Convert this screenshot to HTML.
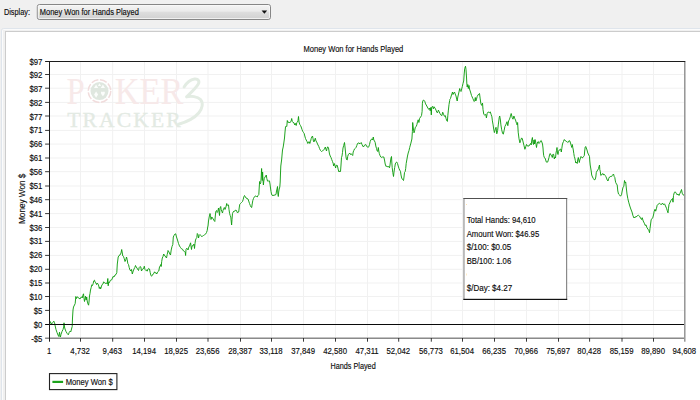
<!DOCTYPE html>
<html><head><meta charset="utf-8"><title>Money Won for Hands Played</title>
<style>
html,body{margin:0;padding:0;background:#f0f0f0;overflow:hidden}
body{width:700px;height:400px;font-family:"Liberation Sans",sans-serif}
svg{display:block;position:absolute;left:0;top:0}
text{font-family:"Liberation Sans",sans-serif;fill:#0c0c0c;stroke:#0c0c0c;stroke-width:0.14px}
</style></head><body>
<svg width="700" height="400" viewBox="0 0 700 400">
<defs>
<linearGradient id="cb" x1="0" y1="0" x2="0" y2="1">
<stop offset="0" stop-color="#f4f4f4"/><stop offset="0.45" stop-color="#ebebeb"/><stop offset="0.5" stop-color="#dedede"/><stop offset="1" stop-color="#d0d0d0"/>
</linearGradient>
</defs>
<rect x="0" y="0" width="700" height="400" fill="#f0f0f0"/>

<rect x="1.5" y="28.5" width="720" height="400" rx="2" fill="#f0f0f0" stroke="#dfe5ec" stroke-width="1"/>
<rect x="2.5" y="29.5" width="720" height="400" rx="1" fill="none" stroke="#fbfbfb" stroke-width="1"/>
<rect x="5.5" y="31.5" width="720" height="400" fill="#ffffff" stroke="#cccccc" stroke-width="1"/>
<rect x="37.3" y="4.5" width="233.2" height="15" rx="2.2" fill="url(#cb)" stroke="#868686" stroke-width="1"/>
<rect x="38.3" y="5.5" width="231.2" height="13" rx="1.2" fill="none" stroke="#fafafa" stroke-opacity="0.75" stroke-width="1"/>
<path d="M261.6 10.4 L267.2 10.4 L264.4 13.8 Z" fill="#111"/>
<text x="3.9" y="15.4" font-size="8.6" textLength="26.2" lengthAdjust="spacingAndGlyphs">Display:</text>
<text x="39.8" y="15.4" font-size="8.6" textLength="99" lengthAdjust="spacingAndGlyphs">Money Won for Hands Played</text>
<text x="303.5" y="51.9" font-size="8.6" textLength="99.8" lengthAdjust="spacingAndGlyphs">Money Won for Hands Played</text>
<path d="M80.50 61.50V338.10M112.70 61.50V338.10M144.50 61.50V338.10M176.50 61.50V338.10M208.00 61.50V338.10M240.50 61.50V338.10M271.50 61.50V338.10M303.50 61.50V338.10M335.50 61.50V338.10M367.50 61.50V338.10M398.70 61.50V338.10M431.30 61.50V338.10M462.50 61.50V338.10M494.50 61.50V338.10M526.50 61.50V338.10M558.50 61.50V338.10M589.60 61.50V338.10M622.00 61.50V338.10M653.50 61.50V338.10M49.50 74.50H684.50M49.50 88.20H684.50M49.50 102.40H684.50M49.50 116.00H684.50M49.50 130.40H684.50M49.50 144.10H684.50M49.50 158.00H684.50M49.50 171.70H684.50M49.50 186.00H684.50M49.50 199.70H684.50M49.50 213.60H684.50M49.50 227.50H684.50M49.50 241.40H684.50M49.50 255.40H684.50M49.50 269.30H684.50M49.50 283.00H684.50M49.50 296.50H684.50M49.50 310.40H684.50M49.50 324.50H684.50" stroke="#f1f1f1" stroke-width="1" fill="none"/>
<g>
<text x="66.6" y="104.3" font-size="38.5" textLength="18.2" lengthAdjust="spacingAndGlyphs" style="font-family:'Liberation Serif',serif;fill:#f7e9e9;stroke:none">P</text>
<text x="114.8" y="104.3" font-size="38.5" textLength="68.5" lengthAdjust="spacingAndGlyphs" style="font-family:'Liberation Serif',serif;fill:#f7e9e9;stroke:none">KER</text>
<circle cx="99.5" cy="91.1" r="11.3" fill="none" stroke="#f1dcdc" stroke-width="1.5" stroke-dasharray="7.2 1.7"/>
<circle cx="99.5" cy="91.1" r="9" fill="#dfe7df"/>
<path d="M96.1 84.6 l2.1 3.3 h-4.2z M102.9 84.6 l2.1 3.3 h-4.2z M99.5 83.3 l1.6 2.6 h-3.2z M96.1 91.6 l2 3 l-2 3.2 l-2 -3.2z M100.9 92.2 q1 -1.4 2 0 q1 -1.4 2 0 q0.4 1.4 -2 4 q-2.4 -2.6 -2 -4z" fill="#fbfdfb"/>
<text x="67.2" y="126.9" font-size="21.6" textLength="113.5" lengthAdjust="spacing" style="font-family:'Liberation Serif',serif;fill:#e3eae3;stroke:#e3eae3;stroke-width:0.3px">TRACKER</text>
<path d="M184.1 87 C186.5 83 190.5 79.6 194.5 79 C198.5 78.6 200 81.5 198 84.5 C195.5 88.5 190 93.5 186.6 96.9 C191 95.8 197.5 96.4 200.5 99.5 C203.5 103 202.5 108.5 198.7 113 C194 118.5 186.5 122 178.6 124.2" fill="none" stroke="#e3ece3" stroke-width="3" stroke-linecap="round" stroke-linejoin="round"/>
</g>
<path d="M49.5 325.0 L50.2 321.5 L51.5 324.0 L52.8 322.5 L53.8 321.2 L54.5 322.5 L55.2 326.0 L56.0 329.5 L57.0 332.5 L58.0 335.0 L58.8 336.5 L59.5 332.2 L60.3 337.5 L61.0 334.5 L62.0 331.5 L63.0 329.5 L63.7 327.0 L64.0 322.8 L64.5 327.0 L65.0 329.0 L66.0 331.5 L67.2 333.5 L68.3 334.8 L69.2 332.5 L70.2 331.0 L70.8 331.8 L71.5 329.0 L72.2 326.5 L72.5 318.0 L73.0 310.0 L73.5 307.0 L74.5 305.0 L75.2 303.5 L75.8 296.5 L76.5 298.5 L77.2 296.8 L78.0 297.5 L79.0 298.2 L80.0 299.0 L80.8 297.5 L81.5 296.8 L82.2 298.0 L82.8 295.5 L83.5 293.8 L84.0 298.5 L84.5 301.5 L85.0 299.0 L85.5 296.2 L86.2 300.0 L86.7 297.0 L87.2 301.0 L88.0 304.0 L88.6 305.2 L89.0 302.0 L89.5 296.0 L90.0 293.5 L90.5 290.0 L91.2 287.5 L91.8 284.8 L92.5 285.5 L93.2 283.5 L93.8 280.8 L94.5 280.2 L95.0 282.0 L95.8 282.8 L96.5 284.5 L97.2 283.0 L98.0 284.0 L98.8 286.0 L99.3 288.5 L100.0 287.0 L100.5 289.0 L101.0 288.0 L101.5 286.0 L102.2 284.5 L103.0 284.0 L103.6 281.8 L104.2 282.5 L105.0 283.0 L105.8 283.5 L106.5 282.8 L107.2 284.0 L107.8 278.5 L108.2 285.8 L108.8 282.0 L109.5 282.5 L110.2 280.5 L111.0 280.0 L111.8 279.8 L113.0 276.5 L114.0 277.0 L115.0 275.0 L116.0 274.5 L116.8 272.5 L117.3 264.0 L118.2 257.0 L119.0 255.5 L120.0 255.0 L121.0 253.0 L121.7 249.5 L122.3 253.0 L122.8 256.0 L123.5 256.5 L124.2 258.5 L125.0 261.5 L125.8 260.0 L126.5 257.0 L127.2 259.5 L127.8 263.5 L128.5 264.5 L129.2 267.5 L130.0 270.0 L130.8 271.0 L131.5 269.5 L132.3 274.0 L133.2 271.0 L134.0 269.0 L134.8 267.5 L135.5 265.5 L136.2 267.0 L137.0 268.0 L137.7 269.5 L138.5 270.5 L139.2 267.5 L140.0 266.5 L140.8 267.0 L141.5 271.0 L142.2 269.5 L143.0 269.0 L143.8 268.0 L144.3 266.2 L145.0 269.5 L145.8 270.5 L146.5 270.0 L147.2 271.2 L148.0 269.0 L148.8 268.5 L149.5 269.0 L150.2 272.5 L150.8 275.0 L151.5 276.2 L152.3 275.5 L153.0 274.0 L153.8 273.5 L154.5 271.8 L155.2 273.0 L156.0 272.8 L156.8 274.0 L157.5 272.0 L158.2 271.5 L158.8 271.0 L159.5 267.0 L160.2 266.0 L160.8 264.5 L161.2 266.5 L161.7 261.5 L162.3 258.0 L163.0 256.5 L163.7 254.0 L164.3 255.0 L165.0 256.0 L165.8 257.0 L166.5 258.0 L167.2 254.5 L167.8 252.0 L168.0 250.5 L169.0 252.0 L169.8 254.0 L170.5 255.0 L171.2 250.0 L172.0 246.5 L172.8 244.5 L173.3 237.0 L174.0 235.5 L175.0 234.0 L175.7 233.8 L176.5 237.0 L177.5 240.0 L178.5 243.5 L179.5 246.0 L180.5 247.5 L181.5 248.8 L182.5 249.2 L183.5 251.0 L184.5 251.5 L185.2 252.0 L185.6 255.5 L186.0 249.5 L186.8 248.2 L187.5 249.0 L188.0 250.0 L188.8 247.0 L189.5 246.0 L190.2 244.0 L190.6 242.8 L191.0 246.5 L191.5 249.5 L192.0 245.8 L192.8 246.0 L193.5 244.5 L194.0 244.0 L194.5 248.5 L195.0 243.5 L195.5 240.0 L196.2 238.5 L196.8 237.5 L197.3 233.5 L198.0 234.5 L198.5 238.0 L199.2 235.5 L200.0 234.5 L200.8 235.5 L201.5 236.5 L202.5 236.2 L203.5 235.5 L204.5 234.8 L205.5 234.2 L206.5 232.5 L207.2 230.5 L207.7 227.0 L208.0 226.0 L208.5 221.0 L209.2 217.0 L210.0 213.5 L210.5 215.5 L211.0 219.5 L211.8 217.0 L212.5 218.0 L213.2 219.0 L214.0 220.5 L214.8 221.5 L215.3 216.0 L215.8 211.5 L216.5 210.5 L217.2 212.5 L217.8 211.5 L218.5 208.0 L219.0 211.5 L219.5 215.5 L220.0 208.0 L220.7 206.5 L221.2 209.5 L221.8 211.5 L222.5 213.0 L223.0 210.5 L223.7 208.5 L224.3 207.5 L225.0 209.5 L225.6 208.0 L226.2 206.0 L226.7 203.5 L227.2 205.5 L227.8 204.8 L228.5 205.0 L229.0 209.5 L229.6 213.5 L230.2 215.5 L230.8 217.0 L231.2 221.0 L231.6 225.0 L232.0 219.5 L232.5 213.5 L233.2 212.0 L234.0 211.0 L234.8 211.2 L235.7 210.0 L236.5 210.5 L237.2 212.5 L238.0 212.5 L238.7 212.0 L239.2 208.0 L239.7 204.5 L240.5 203.5 L241.5 202.5 L242.5 201.5 L243.2 199.5 L243.8 197.0 L244.5 195.5 L245.2 196.5 L246.0 198.0 L247.0 198.5 L248.0 199.0 L248.7 201.0 L249.5 203.5 L250.3 205.5 L251.0 207.0 L251.7 207.5 L252.2 204.0 L252.8 200.5 L253.5 198.5 L254.3 197.0 L255.0 196.2 L255.8 196.0 L256.5 196.5 L257.2 197.0 L258.0 195.5 L258.8 194.5 L259.2 188.0 L259.6 181.5 L260.2 184.0 L260.8 182.5 L261.2 177.0 L261.6 168.5 L262.0 177.0 L262.3 180.5 L262.6 172.0 L263.0 180.0 L263.4 185.0 L263.8 181.0 L264.3 178.5 L265.0 177.0 L265.7 176.0 L266.3 175.0 L266.8 178.5 L267.5 181.0 L268.2 181.5 L268.8 180.5 L269.5 181.0 L270.0 184.0 L270.5 188.0 L271.0 191.5 L271.5 194.0 L272.0 195.2 L273.0 195.5 L274.0 195.2 L275.0 195.0 L276.0 194.5 L276.5 191.0 L277.0 189.0 L277.5 186.5 L277.8 193.0 L278.3 196.5 L278.7 192.0 L279.2 189.0 L279.8 187.0 L280.2 182.0 L280.5 173.0 L280.8 166.0 L281.2 163.0 L281.6 160.0 L282.5 150.0 L283.2 147.0 L283.8 143.0 L284.5 138.0 L285.0 132.0 L285.5 127.0 L286.2 126.0 L286.8 126.5 L287.3 120.5 L288.0 122.5 L288.8 122.0 L289.5 123.0 L290.2 122.0 L291.0 121.5 L291.7 118.5 L292.3 121.5 L293.0 122.5 L294.0 122.8 L294.8 125.0 L295.5 123.5 L296.2 125.5 L296.8 122.5 L297.5 122.0 L298.0 120.5 L298.5 116.5 L299.0 122.0 L299.8 124.5 L300.5 125.5 L301.2 127.0 L302.0 129.5 L302.8 131.5 L303.5 132.5 L304.2 133.5 L304.8 136.0 L305.5 138.5 L306.2 140.0 L307.0 141.5 L307.8 143.5 L308.5 142.0 L309.2 141.5 L309.8 143.5 L310.5 141.5 L311.2 138.5 L311.8 137.0 L312.5 136.0 L313.0 138.5 L313.5 141.5 L314.0 142.0 L314.7 140.0 L315.3 138.2 L316.0 141.0 L316.7 142.0 L317.5 144.0 L318.8 146.5 L319.5 148.5 L320.5 150.5 L321.5 151.5 L322.5 151.0 L323.5 150.0 L324.5 149.0 L325.3 147.0 L326.0 149.5 L326.5 151.0 L327.0 148.5 L327.7 146.8 L328.5 148.0 L329.0 151.0 L329.5 154.0 L330.2 156.0 L331.0 157.5 L331.7 159.5 L332.5 161.5 L333.2 163.5 L333.7 166.0 L334.3 163.5 L335.0 165.5 L335.6 168.0 L336.2 165.5 L337.0 165.0 L337.7 167.0 L338.3 170.0 L339.0 172.0 L339.8 171.0 L340.5 171.5 L341.0 165.0 L341.5 157.5 L342.0 156.0 L342.5 152.5 L343.0 148.0 L343.7 145.5 L344.5 142.5 L345.0 147.0 L345.5 152.0 L346.0 157.0 L346.5 159.5 L347.2 160.0 L347.7 156.5 L348.3 154.5 L349.0 154.0 L349.8 153.0 L350.5 154.5 L351.2 154.0 L352.0 154.5 L352.7 155.5 L353.2 152.0 L353.8 150.5 L354.5 149.0 L355.2 148.5 L356.0 147.5 L356.8 145.5 L357.5 143.5 L358.3 143.2 L359.0 142.8 L359.8 144.0 L360.5 143.2 L361.2 142.5 L362.0 144.5 L362.7 146.0 L363.5 147.0 L364.2 145.5 L365.0 145.0 L365.8 144.5 L366.5 146.0 L367.3 147.0 L368.0 147.5 L368.8 146.8 L369.5 144.5 L370.2 141.5 L371.0 139.5 L371.8 139.0 L372.5 140.0 L373.3 137.0 L373.8 140.0 L374.5 141.0 L375.2 142.5 L375.8 146.0 L376.5 148.5 L377.2 151.0 L377.8 151.5 L378.3 147.5 L378.8 151.0 L379.3 153.5 L380.0 155.5 L380.8 157.0 L381.8 157.5 L382.8 156.8 L383.8 157.0 L384.5 160.0 L385.2 164.0 L386.0 166.5 L386.8 166.0 L387.8 167.0 L388.8 166.5 L389.5 167.8 L390.0 165.0 L390.5 161.0 L391.0 158.0 L391.5 156.5 L391.8 162.0 L392.2 167.5 L392.8 172.5 L393.5 176.5 L394.0 172.0 L394.7 167.5 L395.3 164.0 L396.0 162.5 L396.7 162.0 L397.5 163.5 L398.2 166.0 L399.0 168.5 L399.7 170.0 L400.5 171.5 L401.0 175.0 L401.7 178.0 L402.5 179.5 L403.5 180.5 L404.0 177.0 L404.5 172.5 L405.2 171.5 L405.7 168.5 L406.2 163.5 L406.8 160.0 L407.5 156.0 L408.2 153.0 L409.0 150.5 L409.7 147.5 L410.9 143.1 L411.9 139.0 L412.4 131.4 L412.7 122.5 L413.3 128.0 L414.0 132.8 L414.6 130.8 L415.3 127.3 L416.2 126.6 L416.9 124.6 L417.5 121.8 L418.2 119.8 L418.9 122.5 L419.6 118.4 L420.6 117.0 L421.5 115.6 L422.1 111.5 L422.4 103.2 L422.9 100.5 L423.7 100.1 L424.7 101.2 L425.6 103.9 L426.8 106.0 L427.9 108.1 L428.8 109.4 L429.5 108.1 L430.2 110.8 L430.9 107.4 L431.3 114.9 L431.7 107.4 L432.5 106.3 L433.4 108.8 L434.0 106.7 L435.0 108.1 L436.0 110.1 L436.8 112.2 L437.5 112.9 L438.4 110.1 L439.1 111.5 L440.0 113.6 L440.8 114.9 L441.9 115.6 L442.7 112.2 L443.5 114.2 L444.4 116.3 L445.3 115.6 L446.0 118.4 L446.8 120.8 L447.4 121.4 L447.8 115.6 L448.4 110.1 L449.0 104.6 L449.7 100.5 L449.8 99.5 L450.5 98.5 L451.2 96.0 L452.0 93.5 L452.5 92.0 L453.0 94.5 L453.8 93.0 L454.5 92.0 L455.2 94.0 L456.0 96.0 L456.7 99.0 L457.2 101.0 L457.8 97.0 L458.5 94.0 L459.2 91.0 L459.7 88.5 L460.3 90.5 L461.0 91.5 L461.7 89.0 L462.3 86.5 L463.0 83.5 L463.7 81.0 L464.2 74.0 L464.7 68.5 L465.5 66.2 L466.0 69.5 L466.5 77.0 L466.8 83.0 L467.2 87.0 L467.8 84.5 L468.3 88.5 L469.0 85.5 L469.5 89.0 L470.2 91.0 L470.8 93.0 L471.5 95.5 L472.2 97.0 L472.8 98.5 L473.5 100.0 L474.2 101.5 L474.8 100.5 L475.3 97.5 L475.8 101.0 L476.5 99.0 L477.2 96.5 L478.0 95.0 L478.8 94.0 L479.5 93.5 L480.1 98.1 L480.9 103.8 L481.7 105.4 L482.5 103.0 L483.0 109.5 L483.8 114.4 L484.9 115.2 L485.8 114.4 L486.4 117.9 L487.2 113.5 L488.2 111.9 L489.2 112.7 L490.3 111.9 L491.1 114.4 L491.9 116.8 L492.4 120.9 L493.1 124.9 L493.7 129.0 L494.4 132.6 L495.2 129.8 L496.0 127.3 L496.8 133.8 L497.6 130.6 L498.4 124.1 L499.2 117.6 L499.7 116.0 L500.4 120.0 L500.9 124.9 L501.7 129.8 L502.5 133.0 L503.3 134.2 L504.1 130.6 L504.9 126.5 L506.1 124.1 L507.0 121.7 L507.8 125.7 L508.6 120.9 L509.5 119.2 L510.3 116.8 L511.2 113.5 L512.2 117.6 L513.0 119.2 L513.9 116.0 L514.7 118.4 L515.5 120.0 L516.5 123.3 L517.1 124.9 L517.6 122.5 L518.2 132.2 L519.0 138.7 L519.9 142.8 L520.7 140.3 L521.6 137.9 L522.3 138.7 L523.1 142.0 L523.9 145.2 L524.9 149.3 L525.7 146.8 L526.5 144.4 L527.3 146.0 L529.0 146.0 L529.8 144.5 L530.5 143.5 L531.2 145.0 L531.8 140.0 L532.4 137.5 L533.0 143.0 L533.5 144.5 L534.0 140.0 L534.5 144.0 L535.0 139.5 L535.5 141.0 L536.0 144.5 L536.5 147.5 L537.0 144.0 L537.7 142.0 L538.3 141.5 L539.0 143.5 L539.8 142.5 L540.5 141.0 L541.2 140.5 L541.8 142.0 L542.5 144.0 L543.0 148.0 L543.3 152.0 L543.7 155.5 L544.3 157.5 L545.0 158.0 L545.7 160.0 L546.3 162.0 L547.0 162.5 L547.7 162.0 L548.3 160.0 L549.0 157.5 L549.5 155.0 L550.2 153.5 L551.0 155.0 L551.7 156.0 L552.3 157.5 L553.0 154.0 L553.7 154.5 L554.3 159.0 L555.0 157.0 L555.5 158.0 L556.0 153.0 L556.5 150.5 L557.0 147.5 L557.5 153.0 L558.0 154.5 L558.5 151.5 L559.2 150.0 L560.0 149.5 L560.7 149.0 L561.3 152.0 L561.8 148.5 L562.3 145.0 L562.8 143.0 L563.5 141.5 L564.2 139.5 L564.8 140.0 L565.5 141.0 L566.3 141.5 L567.0 141.5 L567.7 142.5 L568.5 142.0 L569.2 140.5 L569.8 141.0 L570.5 143.0 L571.2 145.5 L571.8 147.5 L572.3 144.5 L572.8 147.5 L573.3 150.0 L573.8 153.5 L574.3 156.5 L574.8 158.0 L575.3 160.5 L575.8 163.0 L576.5 162.0 L577.2 163.5 L577.7 160.0 L578.3 157.5 L578.8 160.0 L579.3 162.5 L579.8 160.0 L580.5 158.0 L581.0 156.5 L581.7 157.5 L582.3 158.0 L583.0 157.0 L583.7 156.5 L584.3 155.5 L584.7 151.0 L585.2 147.0 L585.7 146.5 L586.3 148.0 L587.0 150.0 L587.8 153.0 L588.8 155.0 L589.5 156.5 L589.8 161.0 L590.2 165.0 L590.7 168.0 L591.2 171.0 L591.7 175.0 L592.5 177.0 L593.3 178.5 L594.2 179.8 L595.2 179.5 L595.8 177.0 L596.3 172.5 L597.0 171.0 L597.8 170.0 L598.5 168.5 L599.0 166.5 L599.5 165.0 L599.8 169.5 L600.3 171.5 L600.8 175.5 L601.5 175.0 L602.2 174.0 L603.0 173.5 L603.8 175.0 L604.5 174.5 L605.2 175.5 L605.8 176.5 L606.5 178.0 L607.2 180.0 L608.0 181.0 L608.7 178.5 L609.5 177.0 L610.2 176.8 L611.0 176.0 L611.7 176.5 L612.3 175.5 L613.0 174.5 L613.5 174.0 L614.2 176.5 L614.8 177.5 L615.2 180.0 L615.7 182.5 L616.5 184.0 L617.2 185.0 L617.8 191.0 L618.5 194.0 L619.5 194.8 L620.5 196.2 L621.5 194.8 L622.2 191.0 L623.0 187.2 L623.8 186.5 L624.5 180.5 L625.2 182.8 L625.7 182.0 L626.3 188.0 L627.0 194.0 L627.8 198.5 L628.7 202.2 L629.8 206.0 L630.8 209.0 L632.0 212.0 L633.0 215.8 L634.0 218.0 L635.0 216.8 L636.0 217.2 L637.2 215.8 L638.5 215.3 L639.5 216.2 L640.5 218.0 L641.5 219.5 L642.2 217.7 L643.2 221.0 L644.3 223.2 L645.2 225.5 L646.0 224.8 L647.0 227.8 L648.0 229.2 L649.0 230.8 L649.5 232.7 L650.0 228.5 L650.6 224.0 L651.2 219.5 L652.0 218.8 L652.7 218.0 L653.5 215.0 L654.2 211.2 L655.0 209.3 L655.7 211.2 L656.5 208.2 L657.2 205.2 L658.2 204.2 L659.3 203.3 L660.5 204.2 L661.5 204.5 L662.5 203.0 L663.5 204.8 L664.5 203.8 L665.5 206.0 L666.5 208.2 L667.2 210.5 L668.0 212.8 L668.5 208.2 L669.0 204.5 L669.8 203.0 L670.7 200.8 L671.8 199.2 L672.5 198.5 L673.0 202.2 L673.5 195.5 L674.3 192.5 L675.2 191.8 L676.2 193.2 L677.0 194.8 L678.0 194.0 L679.0 195.5 L680.0 193.2 L681.0 191.0 L681.5 189.5 L682.2 193.2 L683.0 194.8 L684.0 195.2 L684.8 195.5" stroke="#0c9b0c" stroke-width="0.92" fill="none" stroke-linejoin="miter" stroke-miterlimit="3"/>
<path d="M45.10 324.5H685.2" stroke="#0a0a0a" stroke-width="1"/>
<path d="M45.10 61.5H685.4" stroke="#1c1c1c" stroke-width="1" fill="none"/>
<rect x="45.10" y="337" width="640.50" height="1" fill="#c2c2c2"/>
<rect x="45.10" y="338" width="640.50" height="1" fill="#8a8a8a"/>
<rect x="684" y="62" width="1" height="279.7" fill="#989898"/>
<rect x="685" y="62" width="1" height="279.7" fill="#c6c6c6"/>
<path d="M49.5 61V341.7" stroke="#1c1c1c" stroke-width="1" fill="none"/>
<path d="M45.10 74.50H49.50M45.10 88.20H49.50M45.10 102.40H49.50M45.10 116.00H49.50M45.10 130.40H49.50M45.10 144.10H49.50M45.10 158.00H49.50M45.10 171.70H49.50M45.10 186.00H49.50M45.10 199.70H49.50M45.10 213.60H49.50M45.10 227.50H49.50M45.10 241.40H49.50M45.10 255.40H49.50M45.10 269.30H49.50M45.10 283.00H49.50M45.10 296.50H49.50M45.10 310.40H49.50M80.50 338V341.7M112.70 338V341.7M144.50 338V341.7M176.50 338V341.7M208.00 338V341.7M240.50 338V341.7M271.50 338V341.7M303.50 338V341.7M335.50 338V341.7M367.50 338V341.7M398.70 338V341.7M431.30 338V341.7M462.50 338V341.7M494.50 338V341.7M526.50 338V341.7M558.50 338V341.7M589.60 338V341.7M622.00 338V341.7M653.50 338V341.7" stroke="#222" stroke-width="0.9" fill="none"/>
<text transform="translate(42.4 65.10) scale(0.905 1)" font-size="8.6" text-anchor="end">$97</text>
<text transform="translate(42.4 77.97) scale(0.905 1)" font-size="8.6" text-anchor="end">$92</text>
<text transform="translate(42.4 91.85) scale(0.905 1)" font-size="8.6" text-anchor="end">$87</text>
<text transform="translate(42.4 105.72) scale(0.905 1)" font-size="8.6" text-anchor="end">$82</text>
<text transform="translate(42.4 119.60) scale(0.905 1)" font-size="8.6" text-anchor="end">$77</text>
<text transform="translate(42.4 133.47) scale(0.905 1)" font-size="8.6" text-anchor="end">$71</text>
<text transform="translate(42.4 147.35) scale(0.905 1)" font-size="8.6" text-anchor="end">$66</text>
<text transform="translate(42.4 161.22) scale(0.905 1)" font-size="8.6" text-anchor="end">$61</text>
<text transform="translate(42.4 175.10) scale(0.905 1)" font-size="8.6" text-anchor="end">$56</text>
<text transform="translate(42.4 188.97) scale(0.905 1)" font-size="8.6" text-anchor="end">$51</text>
<text transform="translate(42.4 202.85) scale(0.905 1)" font-size="8.6" text-anchor="end">$46</text>
<text transform="translate(42.4 216.72) scale(0.905 1)" font-size="8.6" text-anchor="end">$41</text>
<text transform="translate(42.4 230.60) scale(0.905 1)" font-size="8.6" text-anchor="end">$36</text>
<text transform="translate(42.4 244.47) scale(0.905 1)" font-size="8.6" text-anchor="end">$31</text>
<text transform="translate(42.4 258.35) scale(0.905 1)" font-size="8.6" text-anchor="end">$26</text>
<text transform="translate(42.4 272.23) scale(0.905 1)" font-size="8.6" text-anchor="end">$20</text>
<text transform="translate(42.4 286.10) scale(0.905 1)" font-size="8.6" text-anchor="end">$15</text>
<text transform="translate(42.4 299.98) scale(0.905 1)" font-size="8.6" text-anchor="end">$10</text>
<text transform="translate(42.4 313.85) scale(0.905 1)" font-size="8.6" text-anchor="end">$5</text>
<text transform="translate(42.4 327.73) scale(0.905 1)" font-size="8.6" text-anchor="end">$0</text>
<text transform="translate(42.4 341.60) scale(0.905 1)" font-size="8.6" text-anchor="end">-$5</text>
<text transform="translate(49.10 354.3) scale(0.905 1)" font-size="8.6" text-anchor="middle">1</text>
<text transform="translate(80.10 354.3) scale(0.905 1)" font-size="8.6" text-anchor="middle">4,732</text>
<text transform="translate(112.30 354.3) scale(0.905 1)" font-size="8.6" text-anchor="middle">9,463</text>
<text transform="translate(144.10 354.3) scale(0.905 1)" font-size="8.6" text-anchor="middle">14,194</text>
<text transform="translate(176.10 354.3) scale(0.905 1)" font-size="8.6" text-anchor="middle">18,925</text>
<text transform="translate(207.60 354.3) scale(0.905 1)" font-size="8.6" text-anchor="middle">23,656</text>
<text transform="translate(240.10 354.3) scale(0.905 1)" font-size="8.6" text-anchor="middle">28,387</text>
<text transform="translate(271.10 354.3) scale(0.905 1)" font-size="8.6" text-anchor="middle">33,118</text>
<text transform="translate(303.10 354.3) scale(0.905 1)" font-size="8.6" text-anchor="middle">37,849</text>
<text transform="translate(335.10 354.3) scale(0.905 1)" font-size="8.6" text-anchor="middle">42,580</text>
<text transform="translate(367.10 354.3) scale(0.905 1)" font-size="8.6" text-anchor="middle">47,311</text>
<text transform="translate(398.30 354.3) scale(0.905 1)" font-size="8.6" text-anchor="middle">52,042</text>
<text transform="translate(430.90 354.3) scale(0.905 1)" font-size="8.6" text-anchor="middle">56,773</text>
<text transform="translate(462.10 354.3) scale(0.905 1)" font-size="8.6" text-anchor="middle">61,504</text>
<text transform="translate(494.10 354.3) scale(0.905 1)" font-size="8.6" text-anchor="middle">66,235</text>
<text transform="translate(526.10 354.3) scale(0.905 1)" font-size="8.6" text-anchor="middle">70,966</text>
<text transform="translate(558.10 354.3) scale(0.905 1)" font-size="8.6" text-anchor="middle">75,697</text>
<text transform="translate(589.20 354.3) scale(0.905 1)" font-size="8.6" text-anchor="middle">80,428</text>
<text transform="translate(621.60 354.3) scale(0.905 1)" font-size="8.6" text-anchor="middle">85,159</text>
<text transform="translate(653.10 354.3) scale(0.905 1)" font-size="8.6" text-anchor="middle">89,890</text>
<text transform="translate(684.30 354.3) scale(0.905 1)" font-size="8.6" text-anchor="middle">94,608</text>
<text x="353.1" y="368.7" font-size="8.6" text-anchor="middle" textLength="45.2" lengthAdjust="spacingAndGlyphs">Hands Played</text>
<text transform="translate(24.9 198.8) rotate(-90)" font-size="8.6" text-anchor="middle" textLength="50.4" lengthAdjust="spacingAndGlyphs">Money Won $</text>
<rect x="49.5" y="373.6" width="67.4" height="16" fill="#fff" stroke="#222" stroke-width="1.1"/>
<path d="M52.4 381.9H63.1" stroke="#1da31d" stroke-width="2.2"/>
<text x="65.7" y="384.8" font-size="8.6" textLength="47" lengthAdjust="spacingAndGlyphs">Money Won $</text>
<rect x="463.2" y="198" width="104" height="102" fill="#fff"/>
<rect x="463.2" y="198" width="1.5" height="102" fill="#aaaaaa"/>
<rect x="566" y="198" width="1.2" height="102" fill="#8a8a8a"/>
<rect x="463.4" y="198" width="103.8" height="1" fill="#505050"/>
<rect x="463.4" y="298.8" width="103.8" height="1.2" fill="#111111"/>
<rect x="466.2" y="204" width="0.7" height="1" fill="#ffd58a"/><rect x="466.2" y="273.5" width="0.7" height="2" fill="#ffe2ad"/>
<text x="466.7" y="223.1" font-size="8.6" textLength="69" lengthAdjust="spacingAndGlyphs">Total Hands: 94,610</text>
<text x="466.7" y="236.9" font-size="8.6" textLength="72.5" lengthAdjust="spacingAndGlyphs">Amount Won: $46.95</text>
<text x="466.7" y="250.4" font-size="8.6" textLength="44.5" lengthAdjust="spacingAndGlyphs">$/100: $0.05</text>
<text x="466.7" y="263.8" font-size="8.6" textLength="44.5" lengthAdjust="spacingAndGlyphs">BB/100: 1.06</text>
<text x="466.7" y="290.7" font-size="8.6" textLength="45.5" lengthAdjust="spacingAndGlyphs">$/Day: $4.27</text>
</svg></body></html>
